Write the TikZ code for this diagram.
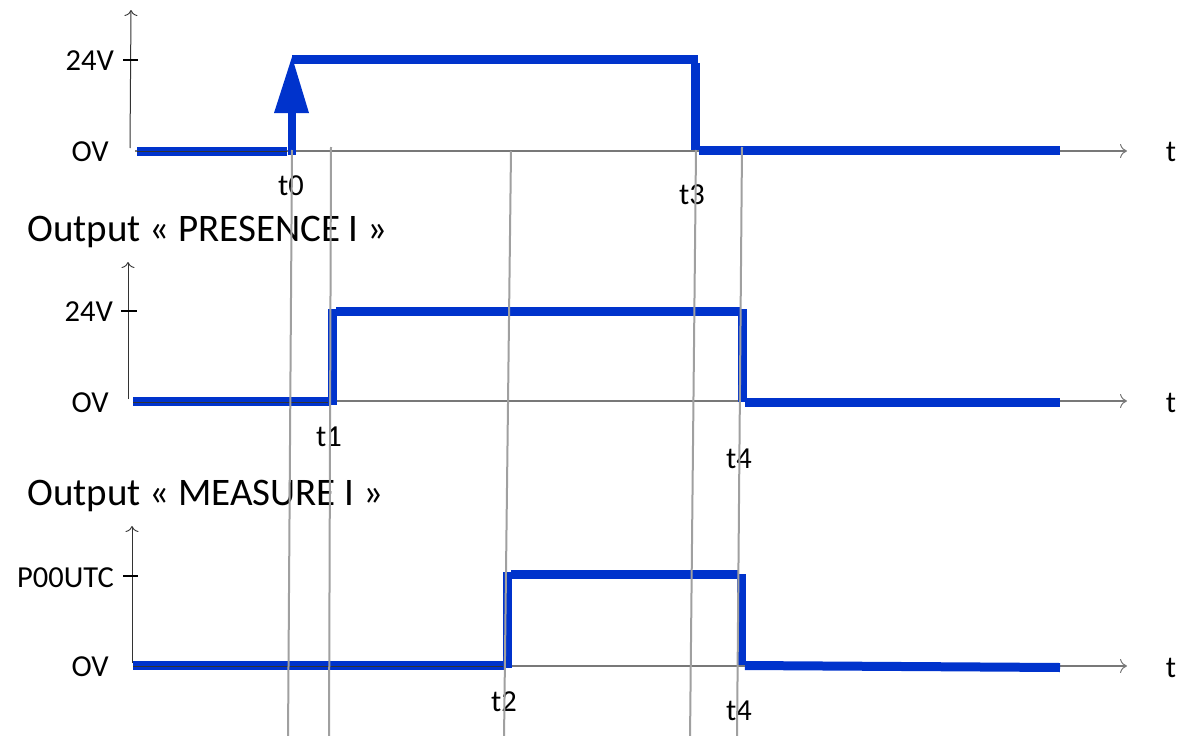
\documentclass[tikz,border=0pt]{standalone}
\usepackage{fontspec}
\setmainfont{Carlito}
\usetikzlibrary{arrows.meta}
\definecolor{sig}{RGB}{0,51,204}
\definecolor{guide}{RGB}{160,160,160}
\definecolor{axisgray}{RGB}{120,120,120}
\tikzset{
  signal/.style={draw=sig, line width=9pt, line join=miter},
  taxis/.style={draw=axisgray, line width=1.3pt, -{To[length=7pt,width=14pt,line width=1pt]}},
  vaxis/.style={draw=black!80, line width=1pt, -{To[length=6pt,width=13pt,line width=0.9pt]}},
  tick/.style={draw=black, line width=1.5pt},
  guideline/.style={draw=guide, line width=2pt},
  lvl/.style={font=\fontsize{30.5}{32}\selectfont, inner sep=0pt, anchor=east},
  tlbl/.style={font=\fontsize{30.5}{32}\selectfont, inner sep=0pt},
  title/.style={font=\fontsize{39}{41}\selectfont, inner sep=0pt, anchor=west},
}
\begin{document}
\begin{tikzpicture}[x=1pt,y=-1pt]
\useasboundingbox (0,0) rectangle (1184,736);

% ---------- panel 1 : input ----------
\coordinate (a1o) at (130,148);
\coordinate (a1y) at (131,10);
\coordinate (a1s) at (135,151);
\coordinate (a1e) at (1127,151);
\draw[vaxis] (a1o) -- (a1y);
\draw[tick] (123,60) -- (138,60);
\draw[taxis] (a1s) -- (a1e);
\node[lvl] (v24a) at (114,61) {24V};
\node[lvl] (v0a) at (109,152) {OV};
\node[tlbl] (ta) at (1171,152) {t};

\draw[signal] (137,151) -- (287,151);
\draw[black!80, line width=1pt] (137,151) -- (287,151);
\fill[sig] (287.5,155) rectangle (295.5,112);
\fill[sig] (274,113) -- (292,57) -- (309,113) -- cycle;
\draw[signal] (292,59.5) -- (698,59.5);
\draw[signal] (695,63) -- (695,150);
\draw[signal] (699,150.5) -- (1060,150.5);

\node[tlbl] (t0) at (291,186) {t0};
\node[tlbl] (t3) at (692,195) {t3};

% ---------- panel 2 : presence output ----------
\node[title] (ttl2) at (27,232) {Output « PRESENCE I »};
\coordinate (a2o) at (128,399);
\coordinate (a2y) at (128,262);
\coordinate (a2s) at (133,401);
\coordinate (a2e) at (1127,401);
\draw[vaxis] (a2o) -- (a2y);
\draw[tick] (121,311) -- (137,311);
\draw[taxis] (a2s) -- (a2e);
\node[lvl] (v24b) at (113,312) {24V};
\node[lvl] (v0b) at (109,403) {OV};
\node[tlbl] (tb) at (1171,403) {t};

\draw[signal] (133,401) -- (330,401);
\draw[black!80, line width=1pt] (133,402) -- (330,402);
\draw[signal] (332,405) -- (332,309);
\draw[signal] (336,311) -- (740,311);
\draw[signal] (742,309) -- (742,402);
\draw[signal] (745,402) -- (1060,402);

\node[tlbl] (t1) at (329,437) {t1};
\node[tlbl] (t4a) at (739,459) {t4};

% ---------- panel 3 : measure output ----------
\node[title] (ttl3) at (27,496) {Output « MEASURE I »};
\coordinate (a3o) at (132,663);
\coordinate (a3y) at (132,526);
\coordinate (a3s) at (133,666);
\coordinate (a3e) at (1127,666);
\draw[vaxis] (a3o) -- (a3y);
\draw[tick] (123,576) -- (138,576);
\draw[taxis] (a3s) -- (a3e);
\node[lvl] (vpc) at (114,578) {P00UTC};
\node[lvl] (v0c) at (109,667) {OV};
\node[tlbl] (tc) at (1171,668) {t};

\draw[signal] (133,665.5) -- (505,665.5);
\draw[black!80, line width=1pt] (133,666) -- (505,666);
\draw[signal] (507,668) -- (507,572);
\draw[signal] (511,574.5) -- (739,574.5);
\draw[signal] (741,574) -- (741,665);
\draw[signal] (745,665.5) -- (1060,667.5);

\node[tlbl] (t2) at (504,702) {t2};
\node[tlbl] (t4b) at (739,711) {t4};

% ---------- time markers ----------
\coordinate (g0a) at (292,150); \coordinate (g0b) at (288,740);
\coordinate (g1a) at (331,147); \coordinate (g1b) at (329,740);
\coordinate (g2a) at (511,151); \coordinate (g2b) at (504,740);
\coordinate (g3a) at (696,150); \coordinate (g3b) at (690,740);
\coordinate (g4a) at (742,147); \coordinate (g4b) at (737,740);
\draw[guideline] (g0a) -- (g0b);
\draw[guideline] (g1a) -- (g1b);
\draw[guideline] (g2a) -- (g2b);
\draw[guideline] (g3a) -- (g3b);
\draw[guideline] (g4a) -- (g4b);
\end{tikzpicture}
\end{document}
